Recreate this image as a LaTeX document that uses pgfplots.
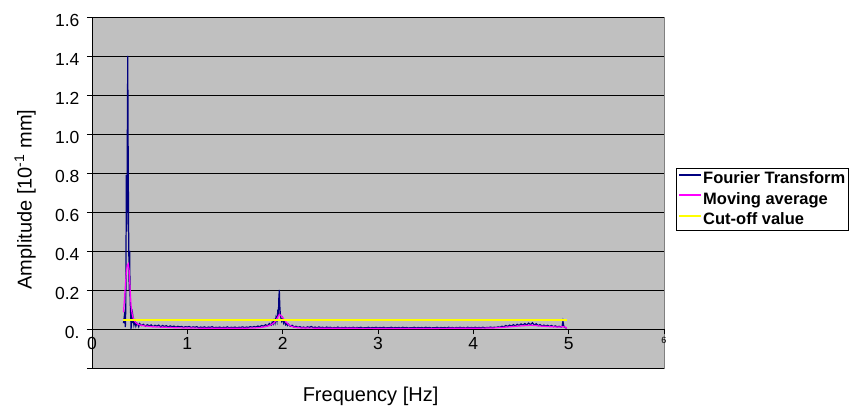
\documentclass[border=0pt]{standalone}
\usepackage{pgfplots}
\pgfplotsset{compat=1.18}
\usepackage{fontspec}
\setmainfont{Liberation Sans}
\definecolor{ftblue}{HTML}{000080}
\definecolor{mavg}{HTML}{FF00FF}
\definecolor{cutoff}{HTML}{FFFF00}
\definecolor{plotgray}{HTML}{C0C0C0}
\definecolor{framegray}{HTML}{808080}

\begin{document}
\begin{tikzpicture}
\begin{axis}[
  scale only axis,
  width=572pt, height=351pt,
  xmin=0, xmax=6, ymin=-0.2, ymax=1.6,
  axis x line=middle, axis y line=left,
  axis line style={-, black, line width=0.8pt},
  axis background/.style={fill=plotgray, draw=framegray, line width=0.8pt},
  hide obscured x ticks=false,
  xtick={0,1,2,3,4,5,6},
  xticklabels={0,1,2,3,4,5,\raisebox{3pt}{\fontsize{9}{10}\selectfont 6}},
  ytick={-0.2,0,0.2,0.4,0.6,0.8,1.0,1.2,1.4,1.6},
  yticklabels={,0.,0.2,0.4,0.6,0.8,1.0,1.2,1.4,1.6},
  ymajorgrids,
  grid style={black, line width=0.8pt},
  tick align=outside,
  major tick length=5pt,
  tick style={black, line width=0.8pt},
  ticklabel style={font=\fontsize{17.5}{21}\selectfont},
  yticklabel style={yshift=-3pt, xshift=-4pt},
  xlabel={Frequency [Hz]},
  ylabel={Amplitude [10\textsuperscript{-1} mm]},
  label style={font=\fontsize{20}{24}\selectfont},
  xlabel style={at={(axis description cs:0.487,-0.054)}, anchor=north, inner sep=0pt},
  ylabel style={at={(axis description cs:-0.098,0.48)}, anchor=south, inner sep=0pt, rotate=0},
  legend style={at={(axis description cs:1.021,0.481)}, anchor=west, draw=black,
    fill=white, font=\bfseries\fontsize{16.5}{19}\selectfont,
    inner xsep=2pt, inner ysep=3pt, row sep=5pt, nodes={inner sep=1pt}},
  legend cell align=left,
  legend image code/.code={\draw[#1, line width=2pt] (0pt,4pt) -- (22pt,4pt);},
]
\coordinate (SW) at (rel axis cs:0,0);

% Fourier transform
\addplot[ftblue, line width=1.2pt] coordinates {
(0.33,0.03) (0.34,0.07) (0.35,0.01) (0.355,0.12) (0.36,0.79) (0.365,0.50)
(0.37,0.95) (0.375,1.40) (0.38,0.85) (0.385,0.45) (0.39,0.20) (0.395,0.40)
(0.40,0.15) (0.405,0.08) (0.41,0.00) (0.415,0.05) (0.42,0.10) (0.425,0.03)
(0.43,0.06) (0.44,0.02) (0.45,0.04) (0.46,0.015) (0.47,0.03) (0.48,0.025)
(0.49,0.012) (0.50,0.028) (0.52,0.018) (0.54,0.024) (0.56,0.014) (0.58,0.022)
(0.60,0.016) (0.62,0.021) (0.64,0.012) (0.66,0.019) (0.68,0.015) (0.70,0.020)
(0.72,0.011) (0.74,0.018) (0.76,0.013) (0.78,0.017) (0.80,0.010) (0.82,0.016)
(0.84,0.012) (0.86,0.015) (0.88,0.009) (0.90,0.014) (0.92,0.011) (0.94,0.013)
(0.96,0.008) (0.98,0.012) (1.00,0.010) (1.02,0.013) (1.04,0.007) (1.06,0.011)
(1.08,0.009) (1.10,0.012) (1.12,0.006) (1.14,0.010) (1.16,0.008) (1.18,0.011)
(1.20,0.006) (1.22,0.010) (1.24,0.008) (1.26,0.012) (1.28,0.006) (1.30,0.009)
(1.32,0.007) (1.34,0.010) (1.36,0.006) (1.38,0.009) (1.40,0.007) (1.42,0.011)
(1.44,0.006) (1.46,0.009) (1.48,0.007) (1.50,0.010) (1.52,0.006) (1.54,0.009)
(1.56,0.008) (1.58,0.011) (1.60,0.007) (1.62,0.010) (1.64,0.008) (1.66,0.012)
(1.68,0.009) (1.70,0.013) (1.72,0.010) (1.74,0.015) (1.76,0.012) (1.78,0.018)
(1.80,0.014) (1.82,0.022) (1.84,0.016) (1.86,0.028) (1.88,0.020) (1.89,0.035)
(1.90,0.025) (1.91,0.045) (1.92,0.030) (1.93,0.060) (1.94,0.040) (1.95,0.100)
(1.955,0.070) (1.96,0.160) (1.965,0.200) (1.97,0.120) (1.975,0.080) (1.98,0.060)
(1.99,0.040) (2.00,0.055) (2.01,0.030) (2.02,0.040) (2.03,0.022) (2.04,0.030)
(2.05,0.018) (2.06,0.025) (2.08,0.014) (2.10,0.019) (2.12,0.010) (2.14,0.014)
(2.16,0.008) (2.18,0.012) (2.20,0.007) (2.22,0.010) (2.24,0.006) (2.26,0.011)
(2.28,0.008) (2.30,0.013) (2.32,0.007) (2.34,0.010) (2.36,0.006) (2.38,0.011)
(2.40,0.007) (2.42,0.009) (2.44,0.005) (2.46,0.010) (2.48,0.007) (2.50,0.009)
(2.52,0.005) (2.54,0.008) (2.56,0.006) (2.58,0.010) (2.60,0.005) (2.62,0.008)
(2.64,0.006) (2.66,0.009) (2.68,0.005) (2.70,0.008) (2.72,0.006) (2.74,0.009)
(2.76,0.005) (2.78,0.008) (2.80,0.006) (2.82,0.009) (2.84,0.005) (2.86,0.007)
(2.88,0.006) (2.90,0.009) (2.92,0.005) (2.94,0.008) (2.96,0.006) (2.98,0.009)
(3.00,0.005) (3.02,0.008) (3.04,0.006) (3.06,0.009) (3.08,0.005) (3.10,0.007)
(3.12,0.006) (3.14,0.009) (3.16,0.005) (3.18,0.008) (3.20,0.006) (3.22,0.008)
(3.24,0.005) (3.26,0.009) (3.28,0.006) (3.30,0.008) (3.32,0.005) (3.34,0.007)
(3.36,0.006) (3.38,0.009) (3.40,0.005) (3.42,0.008) (3.44,0.006) (3.46,0.008)
(3.48,0.005) (3.50,0.009) (3.52,0.006) (3.54,0.008) (3.56,0.005) (3.58,0.007)
(3.60,0.006) (3.62,0.009) (3.64,0.005) (3.66,0.008) (3.68,0.006) (3.70,0.008)
(3.72,0.005) (3.74,0.009) (3.76,0.006) (3.78,0.008) (3.80,0.005) (3.82,0.008)
(3.84,0.006) (3.86,0.009) (3.88,0.006) (3.90,0.008) (3.92,0.005) (3.94,0.009)
(3.96,0.006) (3.98,0.008) (4.00,0.006) (4.02,0.009) (4.04,0.006) (4.06,0.008)
(4.08,0.006) (4.10,0.009) (4.12,0.006) (4.14,0.008) (4.16,0.007) (4.18,0.010)
(4.20,0.007) (4.22,0.009) (4.24,0.008) (4.26,0.011) (4.28,0.009) (4.30,0.014)
(4.32,0.011) (4.34,0.018) (4.36,0.013) (4.38,0.020) (4.40,0.015) (4.42,0.022)
(4.44,0.016) (4.46,0.024) (4.48,0.018) (4.50,0.026) (4.52,0.020) (4.54,0.028)
(4.56,0.021) (4.58,0.030) (4.60,0.022) (4.62,0.032) (4.64,0.020) (4.66,0.027)
(4.68,0.017) (4.70,0.023) (4.72,0.015) (4.74,0.020) (4.76,0.014) (4.78,0.019)
(4.80,0.013) (4.82,0.018) (4.84,0.012) (4.86,0.016) (4.88,0.011) (4.90,0.014)
(4.92,0.010) (4.93,0.012) (4.94,0.040) (4.95,0.012) (4.96,0.008) (4.97,0.006)
(4.98,0.004)
};
\addlegendentry{Fourier Transform}

% Moving average
\addplot[mavg, line width=1.2pt] coordinates {
(0.33,0.085) (0.34,0.15) (0.35,0.22) (0.36,0.29) (0.37,0.325) (0.38,0.335)
(0.39,0.30) (0.40,0.20) (0.41,0.12) (0.42,0.08) (0.43,0.058) (0.44,0.045)
(0.46,0.032) (0.48,0.025) (0.50,0.021) (0.55,0.016) (0.60,0.013) (0.65,0.011)
(0.70,0.010) (0.80,0.008) (0.90,0.006) (1.00,0.005) (1.20,0.004) (1.40,0.004)
(1.60,0.004) (1.70,0.005) (1.75,0.007) (1.80,0.010) (1.85,0.016) (1.88,0.022)
(1.91,0.032) (1.93,0.045) (1.95,0.062) (1.965,0.075) (1.98,0.070) (2.00,0.058)
(2.02,0.045) (2.04,0.033) (2.06,0.024) (2.08,0.017) (2.10,0.012) (2.15,0.007)
(2.20,0.005) (2.40,0.004) (3.00,0.003) (3.60,0.003) (4.00,0.004) (4.20,0.005)
(4.30,0.008) (4.40,0.012) (4.50,0.016) (4.60,0.019) (4.65,0.018) (4.70,0.015)
(4.80,0.012) (4.90,0.010) (4.94,0.012) (4.97,0.009) (4.98,0.003)
};
\addlegendentry{Moving average}

% Cut-off value
\addplot[cutoff, line width=1.6pt] coordinates {(0.33,0.045) (4.98,0.045)};
\addlegendentry{Cut-off value}
\end{axis}
\pgfresetboundingbox
\useasboundingbox (SW) ++(-92pt,-37pt) rectangle ++(854pt,405pt);
\end{tikzpicture}
\end{document}
